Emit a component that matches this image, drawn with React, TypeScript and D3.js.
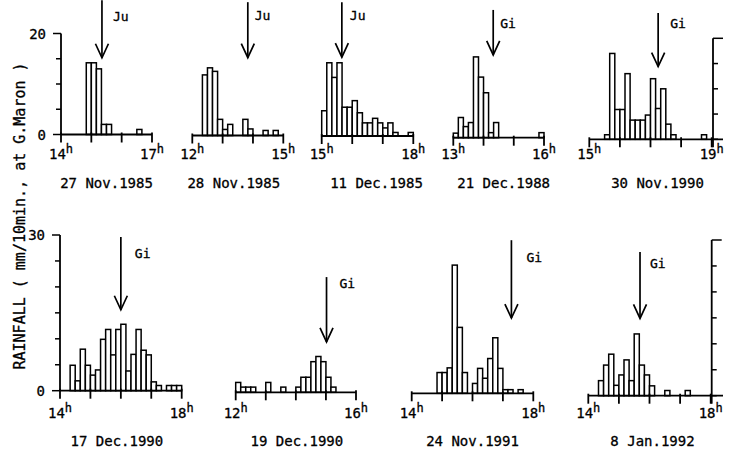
import React from "react";
import * as d3 from "d3";

// rainfall per 10-min bin (mm), first bin starts at the panel's start hour
const rain27Nov1985 = [0, 0, 0, 0, 0, 14.2, 14.2, 13, 2, 2, 0, 0, 0, 0, 0, 1, 0, 0];
const rain28Nov1985 = [0, 0, 12, 13.4, 12.7, 3.2, 1.2, 2.2, 0, 0, 3.2, 1.3, 0, 0, 1, 0, 1, 0];
const rain11Dec1985 = [5, 14.5, 11.6, 14.5, 5.7, 5.7, 7, 4.6, 2.6, 2.6, 3.5, 2.6, 1.6, 2.6, 0.7, 0, 0, 0.7];
const rain21Dec1988 = [0.9, 4, 2.2, 3, 16, 12, 8.9, 1, 3, 0, 0, 0, 0, 0, 0, 0, 0, 1];
const rain30Nov1990 = [0, 0, 0, 0.9, 17, 5.9, 5.9, 13, 3.8, 3.8, 3.8, 4.8, 12, 6.1, 10, 3, 0.9, 0, 0, 0, 0, 0, 0.9, 0];
const rain17Dec1990 = [0, 0, 4.9, 1.9, 8, 4.9, 3, 4, 9.9, 11.8, 6.9, 11.8, 12.8, 3.8, 7, 11.8, 7.8, 6.9, 1.7, 1, 0, 1, 1, 1];
const rain19Dec1990 = [1.9, 1, 1, 1, 0, 0, 1.9, 0, 0, 1, 0, 0, 1, 2.9, 2.9, 5.9, 6.9, 5.9, 2.9, 1, 0, 0, 0, 0];
const rain24Nov1991 = [0, 0, 0, 0, 0, 4, 4, 4.9, 24.7, 12.7, 4, 0, 1.9, 4.8, 2.9, 6.7, 10.7, 4.8, 0.7, 0.7, 0, 0.7, 0, 0];
const rain8Jan1992 = [0, 0, 2.9, 5.9, 8, 2, 4, 6.9, 2.9, 11.9, 5.9, 4, 1.9, 0, 0, 1, 0, 0, 0, 1, 0, 0, 0, 0];

const series = [
  rain27Nov1985, rain28Nov1985, rain11Dec1985, rain21Dec1988, rain30Nov1990,
  rain17Dec1990, rain19Dec1990, rain24Nov1991, rain8Jan1992,
];
const dates = [
  "27 Nov.1985", "28 Nov.1985", "11 Dec.1985", "21 Dec.1988", "30 Nov.1990",
  "17 Dec.1990", "19 Dec.1990", "24 Nov.1991", "8 Jan.1992",
];
const startHours = [14, 12, 15, 13, 15, 14, 12, 14, 14];
const endHours = [17, 15, 18, 16, 19, 18, 16, 18, 18];
// arrival time of the arrow (decimal hours) and its label
const arrowHours = [15.35, 13.83, 15.66, 14.32, 17.25, 16.0, 15.02, 17.28, 15.69];
const arrowLabels = ["Ju", "Ju", "Ju", "Gi", "Gi", "Gi", "Gi", "Gi", "Gi"];
// arrow extent in mm units
const arrowTop = [26.6, 26.4, 26.5, 25.3, 25, 29.6, 22.2, 29.5, 27.7];
const arrowTip = [15.2, 15.4, 15.6, 16.4, 14.4, 15.6, 9.7, 14.5, 14.9];
const rowMax = [20, 30];
const yTitle = "RAINFALL  ( mm/10min., at G.Maron )";

// layout of each small panel
const panels = [
  { row: 0, x0: 61, x1: 152, base: 134.5, axis: "left", dateDx: 0, labDx: 11, labDy: 21 },
  { row: 0, x0: 192.3, x1: 283.3, base: 135.5, axis: "", dateDx: -4, labDx: 7, labDy: 18 },
  { row: 0, x0: 321.7, x1: 413.3, base: 136, axis: "", dateDx: 9, labDx: 8, labDy: 18 },
  { row: 0, x0: 453.3, x1: 544, base: 137.7, axis: "", dateDx: 5, labDx: 7, labDy: 18 },
  { row: 0, x0: 589.3, x1: 711.7, base: 139.3, axis: "right", axisX: 713, ext: 723, dateDx: 7, labDx: 12, labDy: 15 },
  { row: 1, x0: 60, x1: 181.7, base: 390.7, axis: "left", dateDx: -4, labDx: 14, labDy: 21 },
  { row: 1, x0: 235.7, x1: 356, base: 392.3, axis: "", dateDx: 1, labDx: 13, labDy: 11 },
  { row: 1, x0: 411.7, x1: 533.3, base: 393.3, axis: "", dateDx: 0, labDx: 15, labDy: 22 },
  { row: 1, x0: 588.3, x1: 710.7, base: 395.7, axis: "right", axisX: 711.7, ext: 723, dateDx: 3, labDx: 10, labDy: 16 },
];
const rowUnit = [5.05, 5.19];
const rowHourY = [159, 418];
const rowDateY = [188, 446];

const font = "'DejaVu Sans Mono', monospace";
const ink = "#000";

function Panel({ i }: { i: number }) {
  const p: any = panels[i];
  const data = series[i];
  const s0 = startHours[i];
  const s1 = endHours[i];
  const max = rowMax[p.row];
  const x = d3.scaleLinear().domain([s0, s1]).range([p.x0, p.x1]);
  const y = d3.scaleLinear().domain([0, max]).range([p.base, p.base - max * rowUnit[p.row]]);
  const hours = d3.range(s0, s1 + 1);
  const yTicks = d3.range(0, max + 1, 5);
  const ax = x(arrowHours[i]);
  const aTop = y(arrowTop[i]);
  const aTip = y(arrowTip[i]);

  return (
    <g>
      {data.map((v, k) =>
        v > 0 ? (
          <rect
            key={k}
            x={x(s0 + k / 6)}
            y={y(v)}
            width={x(s0 + (k + 1) / 6) - x(s0 + k / 6)}
            height={p.base - y(v)}
            fill="#fff"
            stroke={ink}
            strokeWidth={1.5}
          />
        ) : null
      )}
      <line x1={p.x0} x2={p.ext || p.x1} y1={p.base} y2={p.base} stroke={ink} strokeWidth={1.8} />
      {hours.map((h) => (
        <line key={h} x1={x(h)} x2={x(h)} y1={p.base - 2} y2={p.base + 8} stroke={ink} strokeWidth={1.8} />
      ))}
      {[s0, s1].map((h) => (
        <text key={h} x={x(h)} y={rowHourY[p.row]} textAnchor="middle" fontFamily={font} fontSize={14} fill={ink} stroke={ink} strokeWidth={0.3}>
          {h}
          <tspan dy={-6} fontSize={12}>h</tspan>
        </text>
      ))}
      {p.axis === "left" && (
        <g>
          <line x1={p.x0} x2={p.x0} y1={y(max)} y2={p.base} stroke={ink} strokeWidth={1.8} />
          {yTicks.map((t) => {
            const major = t === 0 || t === max;
            return (
              <line key={t} x1={p.x0 - (major ? 8 : 5)} x2={p.x0} y1={y(t)} y2={y(t)} stroke={ink} strokeWidth={1.5} />
            );
          })}
          {[0, max].map((t) => (
            <text key={t} x={p.x0 - 15} y={y(t) + 5} textAnchor="end" fontFamily={font} fontSize={14} fill={ink} stroke={ink} strokeWidth={0.3}>
              {t}
            </text>
          ))}
        </g>
      )}
      {p.axis === "right" && (
        <g>
          <line x1={p.axisX} x2={p.axisX} y1={y(max)} y2={p.base + 8} stroke={ink} strokeWidth={1.8} />
          {yTicks.map((t) => {
            const major = t === max;
            return (
              <line key={t} x1={p.axisX} x2={p.axisX + (major ? 10 : 5)} y1={y(t)} y2={y(t)} stroke={ink} strokeWidth={1.5} />
            );
          })}
        </g>
      )}
      <line x1={ax} x2={ax} y1={aTop} y2={aTip} stroke={ink} strokeWidth={1.7} />
      <path d={`M${ax - 6.5},${aTip - 14}L${ax},${aTip}L${ax + 6.5},${aTip - 14}`} fill="none" stroke={ink} strokeWidth={1.7} />
      <text x={ax + p.labDx} y={aTop + p.labDy} fontFamily={font} fontSize={13} fill={ink} stroke={ink} strokeWidth={0.3}>
        {arrowLabels[i]}
      </text>
      <text
        x={(p.x0 + p.x1) / 2 + p.dateDx}
        y={rowDateY[p.row]}
        textAnchor="middle"
        fontFamily={font}
        fontSize={14}
        fill={ink}
        stroke={ink}
        strokeWidth={0.3}
      >
        {dates[i]}
      </text>
    </g>
  );
}

export default function App() {
  return (
    <div style={{ position: "absolute", left: 0, top: 0 }}>
      <svg width={730} height={458} style={{ display: "block", background: "#fff" }}>
        {panels.map((_, i) => (
          <Panel key={i} i={i} />
        ))}
        <text
          transform="translate(25,216) rotate(-90)"
          textAnchor="middle"
          fontFamily={font}
          fontSize={15}
          fill={ink}
          stroke={ink}
          strokeWidth={0.3}
        >
          {yTitle}
        </text>
      </svg>
    </div>
  );
}
